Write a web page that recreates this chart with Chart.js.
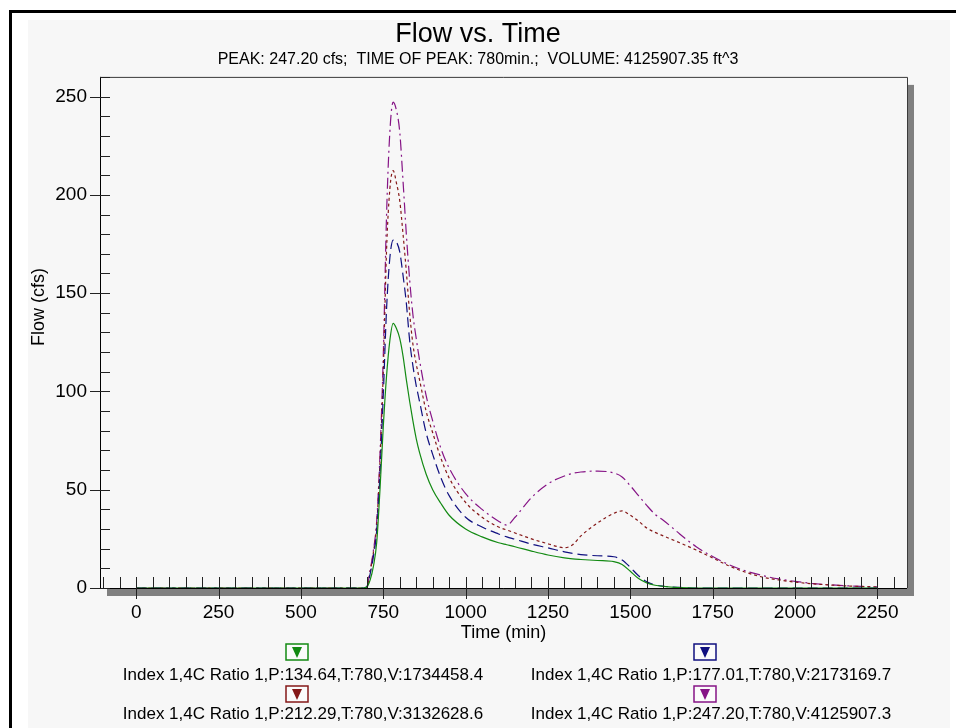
<!DOCTYPE html>
<html>
<head>
<meta charset="utf-8">
<script src="https://cdn.jsdelivr.net/npm/chart.js@4.4.1/dist/chart.umd.min.js"></script>
<style>
  html, body { margin: 0; padding: 0; background: #fff; }
  canvas { display: block; }
</style>
</head>
<body>
<canvas id="flow" width="956" height="728"></canvas>
<script>
// time in minutes, flows in cfs
const times = [0, 690, 700, 710, 720, 730, 740, 750, 760, 770, 780, 790, 800, 810, 820, 830, 840, 850, 860, 880, 900,
  925, 950, 1000, 1050, 1100, 1125, 1150, 1200, 1250, 1300, 1325, 1350, 1400, 1450, 1475, 1500, 1525, 1550, 1575, 1600,
  1650, 1700, 1750, 1800, 1850, 1900, 1950, 2000, 2050, 2100, 2150, 2200, 2250]

const flowGreen = [0, 0, 0.5, 4, 11, 23, 50, 82, 108, 126, 134.64, 132, 127, 118, 106, 95, 85, 76, 69, 58, 50,
  43, 37, 30, 26, 23, 22, 21, 18.8, 16.8, 15.3, 14.8, 14.5, 14, 13.4, 12, 8.5, 4.8, 2.6, 1.4, 0.8,
  0.2, 0, 0, 0, 0, 0, 0, 0, 0, 0, 0, 0, 0]
const flowNavy = [0, 0, 0.5, 7, 16, 29, 58, 98, 142, 168, 177.01, 176, 171, 159, 145, 126, 113, 103, 95, 79, 68,
  56, 47, 36, 31, 27.5, 26, 24.8, 22.3, 20.4, 18.4, 17.6, 17, 16.4, 15.9, 14.3, 10.5, 6.2, 3.2, 1.6, 0.9,
  0.3, 0, 0, 0, 0, 0, 0, 0, 0, 0, 0, 0, 0]
const flowRed = [0, 0, 0.5, 8, 18, 32, 64, 110, 172, 203, 212.29, 206, 197, 180, 161, 140, 124, 114, 106, 90, 79,
  66, 56, 43.5, 36, 31, 29.5, 28, 25, 22.5, 20.5, 22, 26.5, 33, 38, 39.2, 37, 34, 30.5, 28.3, 26.5,
  23, 19.3, 15.3, 11.2, 8, 5.6, 4.1, 3, 2.2, 1.6, 1.1, 0.8, 0.5]
const flowPurple = [0, 0, 0.5, 9, 19, 34, 68, 118, 190, 232, 247.2, 243, 232, 207, 180, 157, 139, 127, 116, 98, 85,
  71, 61, 48, 40, 34, 32, 36, 46, 53, 57, 58.3, 59, 59.5, 58.5, 56.5, 52, 47, 42, 37.5, 34.5,
  27.5, 21, 16, 11.8, 8.7, 6.4, 4.6, 3.4, 2.4, 1.7, 1.2, 0.8, 0.6]

const xTickValues = [0, 250, 500, 750, 1000, 1250, 1500, 1750, 2000, 2250]
const yTickValues = [0, 50, 100, 150, 200, 250]

const seriesLabels = [
  'Index 1,4C Ratio 1,P:134.64,T:780,V:1734458.4',
  'Index 1,4C Ratio 1,P:177.01,T:780,V:2173169.7',
  'Index 1,4C Ratio 1,P:212.29,T:780,V:3132628.6',
  'Index 1,4C Ratio 1,P:247.20,T:780,V:4125907.3'
]
const seriesFlows = [flowGreen, flowNavy, flowRed, flowPurple]
const seriesColors = ['#138a13', '#101080', '#851818', '#861486']
const seriesDashes = [[], [10, 5], [3, 3], [11, 4, 2, 4]]

const chartTitle = 'Flow vs. Time'
const chartSubtitle = 'PEAK: 247.20 cfs;  TIME OF PEAK: 780min.;  VOLUME: 4125907.35 ft^3'
const yTitle = 'Flow (cfs)'

const FONT = "'Liberation Sans', Arial, sans-serif"

const frame = {
  id: 'frame',
  beforeDraw (chart) {
    const {ctx, chartArea: a} = chart
    ctx.save()
    ctx.fillStyle = '#fff'
    ctx.fillRect(0, 0, chart.width, chart.height)
    ctx.fillStyle = '#f7f7f7'
    ctx.fillRect(28, 20, 922, chart.height - 20)
    ctx.fillStyle = '#000'
    ctx.fillRect(9, 10, chart.width - 9, 3)
    ctx.fillRect(9, 10, 3, chart.height - 10)
    // drop shadow of the plot box
    ctx.fillStyle = '#808080'
    ctx.fillRect(a.right, a.top + 8, 7, a.bottom - a.top)
    ctx.fillRect(a.left + 7, a.bottom, a.right - a.left, 8)
    ctx.restore()
  },
  afterDatasetsDraw (chart) {
    const {ctx, chartArea: a, scales: {x, y}} = chart
    ctx.save()
    ctx.lineWidth = 1
    ctx.strokeStyle = '#3a3a3a'
    ctx.beginPath()
    ctx.moveTo(a.left, a.top + 0.5); ctx.lineTo(a.right + 0.5, a.top + 0.5)
    ctx.lineTo(a.right + 0.5, a.bottom)
    ctx.stroke()
    ctx.strokeStyle = '#000'
    ctx.beginPath()
    ctx.moveTo(a.left + 0.5, a.top); ctx.lineTo(a.left + 0.5, a.bottom + 0.5)
    ctx.lineTo(a.right, a.bottom + 0.5)
    ctx.stroke()
    // x ticks: minor every 50 inside, major every 250 crossing
    ctx.strokeStyle = '#222'
    ctx.beginPath()
    for (let t = Math.ceil(x.min / 50) * 50; t <= x.max; t += 50) {
      const px = Math.round(x.getPixelForValue(t)) + 0.5
      const major = t % 250 === 0
      ctx.moveTo(px, a.bottom - 11)
      ctx.lineTo(px, a.bottom + (major ? 11 : 0))
    }
    for (let v = 0; v <= y.max; v += 10) {
      const py = Math.round(y.getPixelForValue(v)) + 0.5
      const major = v % 50 === 0
      ctx.moveTo(a.left - (major ? 10 : 0), py)
      ctx.lineTo(a.left + 10, py)
    }
    ctx.stroke()
    ctx.restore()
  },
  afterDraw (chart) {
    const {ctx} = chart
    ctx.save()
    // y axis title, sits a bit above the plot middle
    ctx.translate(39, 307)
    ctx.rotate(-Math.PI / 2)
    ctx.fillStyle = '#000'
    ctx.font = '18px ' + FONT
    ctx.textAlign = 'center'
    ctx.textBaseline = 'middle'
    ctx.fillText(yTitle, 0, 0)
    ctx.restore()

    const textX = [303, 711], markX = [297, 705]
    const textY = [675, 714], markY = [652, 694]
    ctx.save()
    chart.data.datasets.forEach((ds, i) => {
      const col = i % 2, row = Math.floor(i / 2)
      const mx = markX[col], my = markY[row]
      ctx.fillStyle = '#fbfbfb'
      ctx.fillRect(mx - 11, my - 8, 22, 16)
      ctx.strokeStyle = ds.borderColor
      ctx.lineWidth = 1.5
      ctx.strokeRect(mx - 11, my - 8, 22, 16)
      ctx.fillStyle = ds.borderColor
      ctx.beginPath()
      ctx.moveTo(mx - 5, my - 5); ctx.lineTo(mx + 5, my - 5); ctx.lineTo(mx, my + 6)
      ctx.closePath()
      ctx.fill()
      ctx.fillStyle = '#000'
      ctx.font = '17px ' + FONT
      ctx.textAlign = 'center'
      ctx.textBaseline = 'middle'
      ctx.fillText(ds.label, textX[col], textY[row])
    })
    ctx.restore()
  }
}

new Chart(document.getElementById('flow'), {
  type: 'line',
  data: {
    datasets: seriesFlows.map((flows, i) => ({
      label: seriesLabels[i],
      data: times.map((t, k) => ({x: t, y: flows[k]})),
      borderColor: seriesColors[i],
      borderDash: seriesDashes[i],
      borderWidth: 1.2,
      pointRadius: 0,
      fill: false,
      cubicInterpolationMode: 'monotone'
    }))
  },
  options: {
    responsive: false,
    animation: false,
    devicePixelRatio: 1,
    // symmetric side padding keeps the titles centred on the page
    layout: {padding: {left: 49, top: 20, right: 49, bottom: 0}},
    plugins: {
      legend: {display: false},
      tooltip: {enabled: false},
      title: {
        display: true, text: chartTitle, color: '#000',
        font: {family: FONT, size: 27, weight: 'normal', lineHeight: 1.1},
        padding: {top: 0, bottom: 0}
      },
      subtitle: {
        display: true, text: chartSubtitle, color: '#000',
        font: {family: FONT, size: 16, lineHeight: 1.2},
        padding: {top: 0, bottom: 8}
      }
    },
    scales: {
      x: {
        type: 'linear', min: -110, max: 2340,
        grid: {display: false, drawTicks: false},
        border: {display: false},
        afterBuildTicks: s => { s.ticks = xTickValues.map(v => ({value: v})) },
        ticks: {padding: 13, color: '#000', font: {family: FONT, size: 19}, callback: v => String(v)},
        title: {display: true, text: 'Time (min)', color: '#000', font: {family: FONT, size: 18}, padding: {top: 0, bottom: 84}},
        afterFit: s => { s.height = 140 }
      },
      y: {
        min: 0, max: 260,
        grid: {display: false, drawTicks: false},
        border: {display: false},
        afterBuildTicks: s => { s.ticks = yTickValues.map(v => ({value: v})) },
        ticks: {padding: 13, color: '#000', font: {family: FONT, size: 19}, callback: v => String(v)},
        afterFit: s => { s.width = 51 }
      }
    }
  },
  plugins: [frame]
})
</script>
</body>
</html>
